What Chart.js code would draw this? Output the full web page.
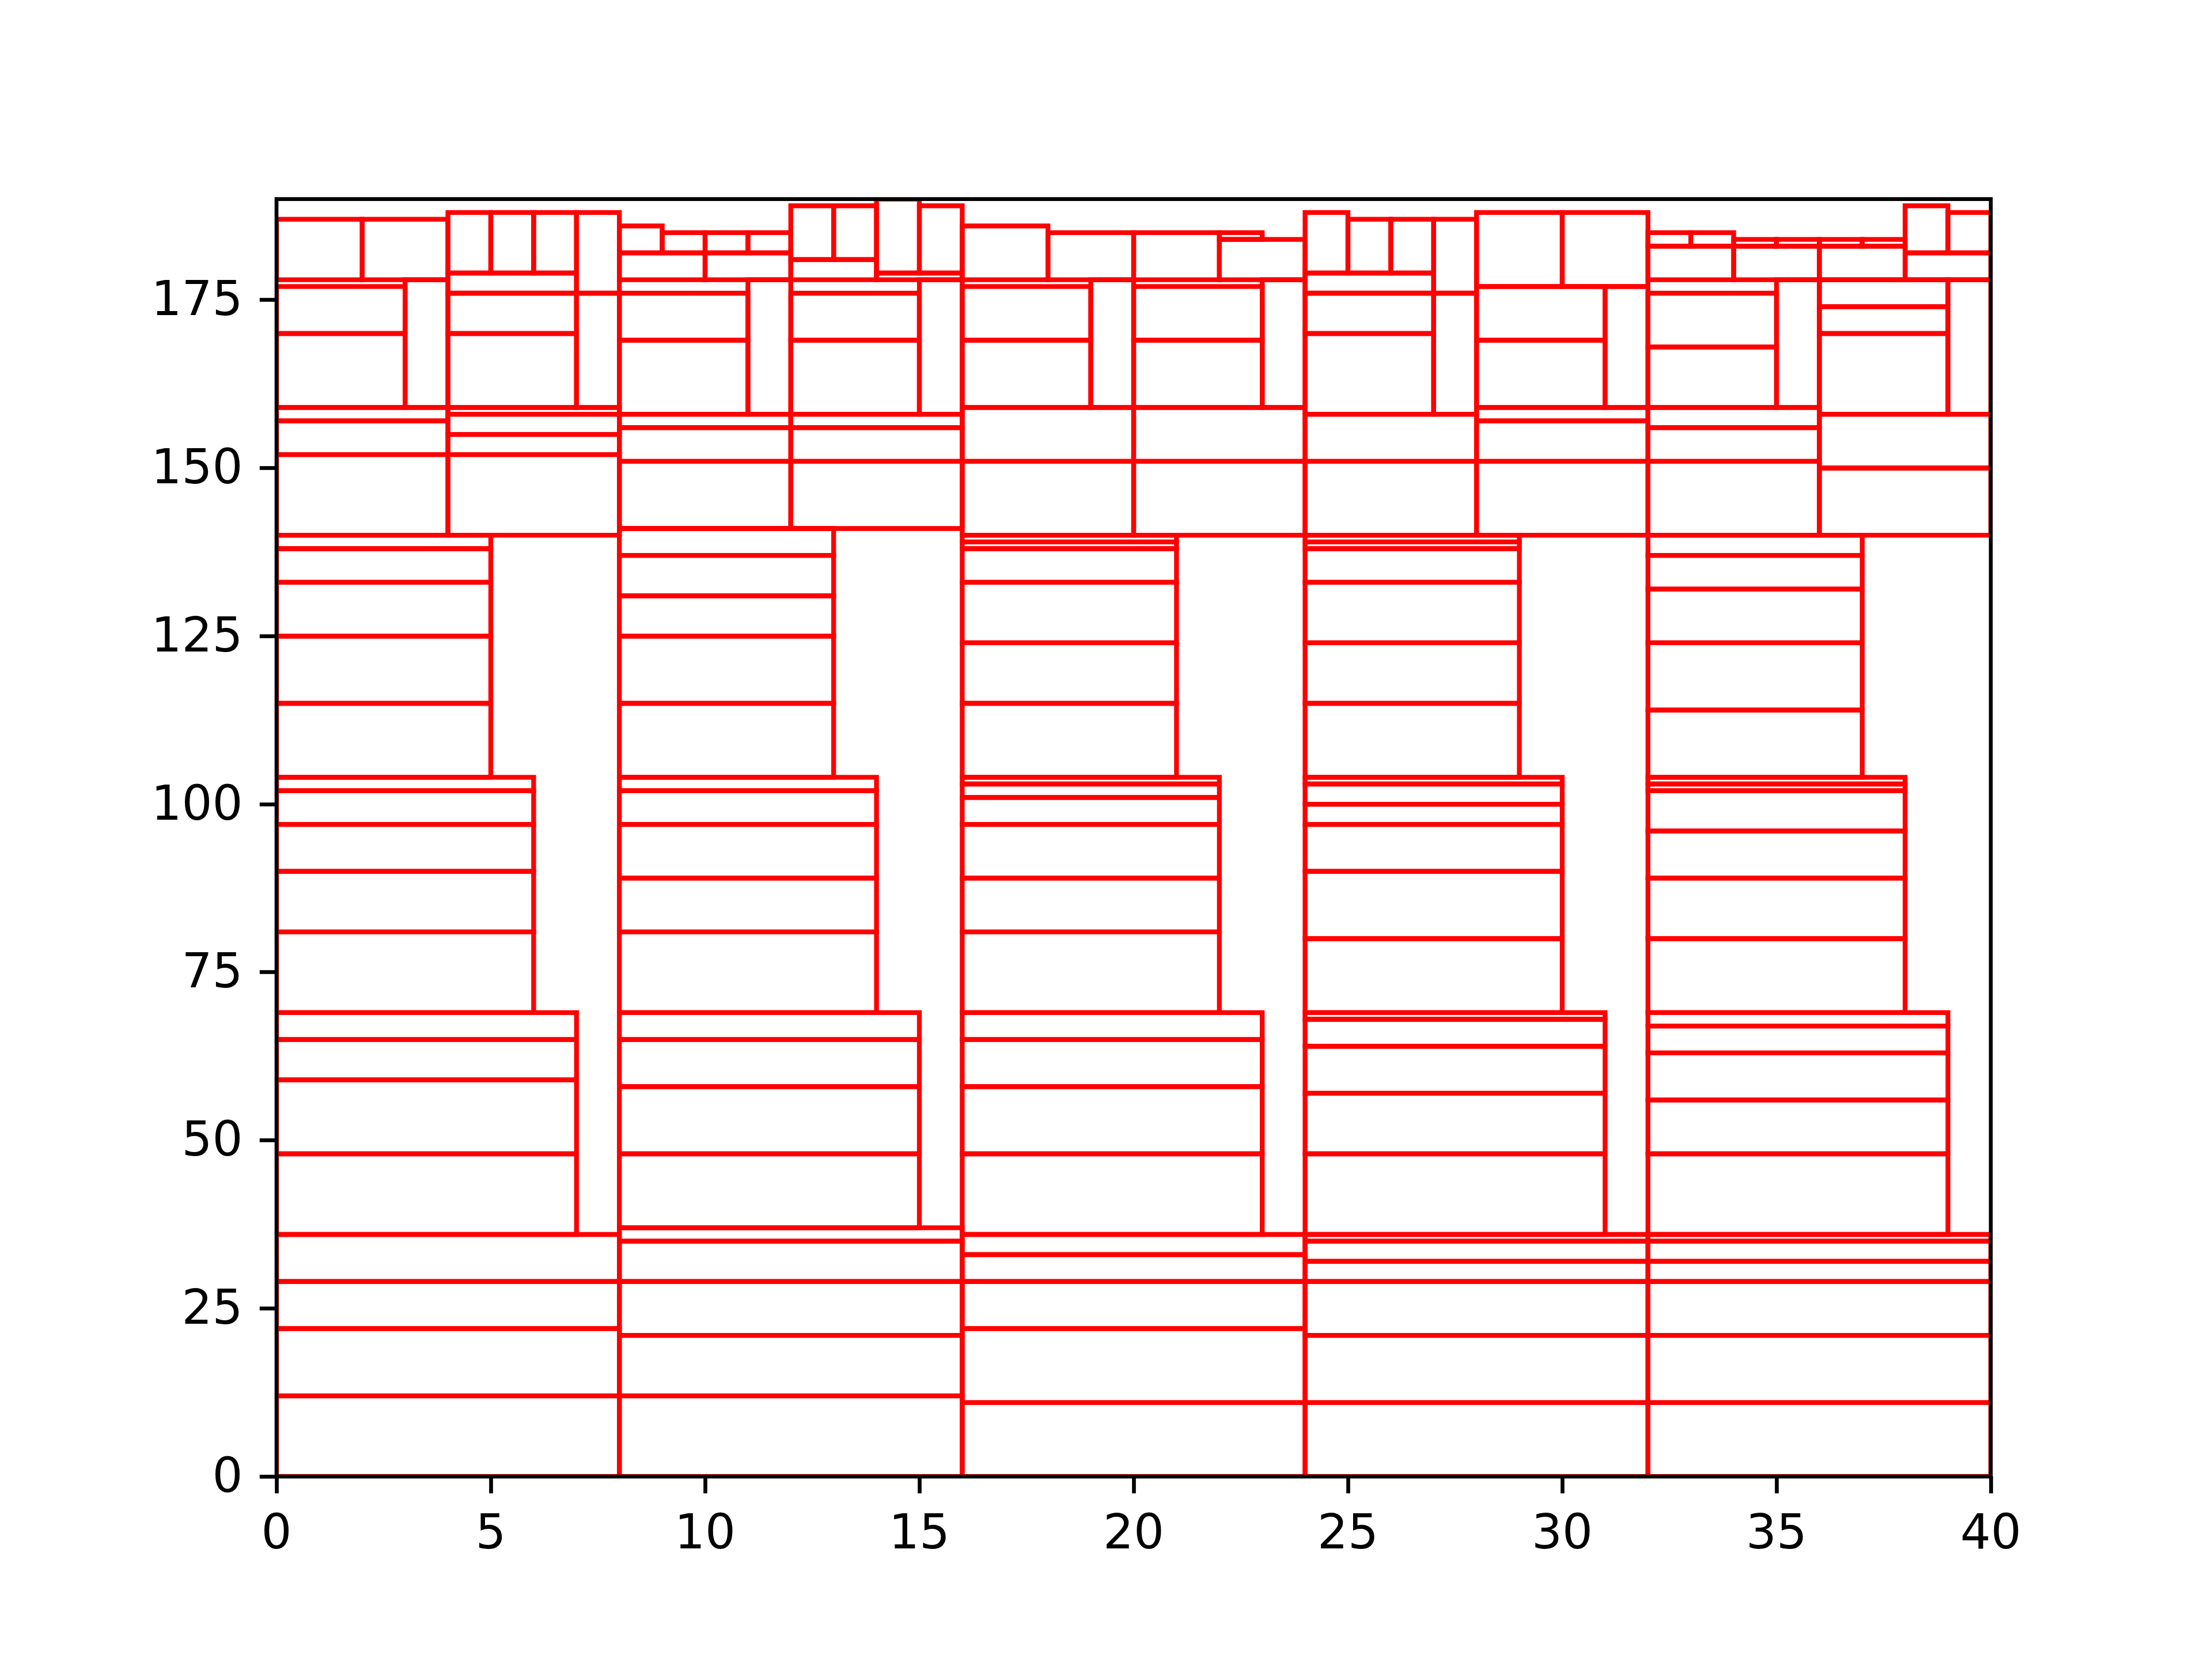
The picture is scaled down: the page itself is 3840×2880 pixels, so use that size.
<!DOCTYPE html>
<html>
<head>
<meta charset="utf-8">
<script src="https://cdn.jsdelivr.net/npm/chart.js@4.4.1/dist/chart.umd.min.js"></script>
<style>
html, body { margin: 0; padding: 0; background: #ffffff; }
canvas { display: block; }
</style>
</head>
<body>
<canvas id="c" width="3840" height="2880" style="width:3840px;height:2880px"></canvas>
<script>
// Rectangles per bin, each [x, y, width, height] in data units
const bin1 = [
  [0,0,8,12],[0,12,8,10],[0,22,8,7],[0,29,8,7],
  [0,36,7,12],[0,48,7,11],[0,59,7,6],[0,65,7,4],
  [0,69,6,12],[0,81,6,9],[0,90,6,7],[0,97,6,5],[0,102,6,2],
  [0,104,5,11],[0,115,5,10],[0,125,5,8],[0,133,5,5],[0,138,5,2],
  [0,140,4,12],[0,152,4,5],[0,157,4,2],
  [4,140,4,12],[4,152,4,3],[4,155,4,3],[4,158,4,1],
  [0,159,3,11],[0,170,3,7],[3,159,1,19],[0,178,2,9],[2,178,2,9],
  [4,159,3,11],[4,170,3,6],[4,176,3,3],[4,179,1,9],[5,179,1,9],[6,179,1,9],
  [7,159,1,17],[7,176,1,12]
];
const bin2 = [
  [8,0,8,12],[8,12,8,9],[8,21,8,8],[8,29,8,6],[8,35,8,2],
  [8,37,7,11],[8,48,7,10],[8,58,7,7],[8,65,7,4],
  [8,69,6,12],[8,81,6,8],[8,89,6,8],[8,97,6,5],[8,102,6,2],
  [8,104,5,11],[8,115,5,10],[8,125,5,6],[8,131,5,6],[8,137,5,4],
  [8,141,4,10],[8,151,4,5],[8,156,4,2],
  [12,141,4,10],[12,151,4,5],[12,156,4,2],
  [8,158,3,11],[8,169,3,7],[11,158,1,20],[8,178,2,4],[10,178,2,4],
  [8,182,1,4],[9,182,1,3],[10,182,1,3],[11,182,1,3],
  [12,158,3,11],[12,169,3,7],[15,158,1,20],[12,178,2,3],[12,181,1,8],[13,181,1,8],
  [14,178,2,1],[14,179,1,11],[15,179,1,10]
];
const bin3 = [
  [16,0,8,11],[16,11,8,11],[16,22,8,7],[16,29,8,4],[16,33,8,3],
  [16,36,7,12],[16,48,7,10],[16,58,7,7],[16,65,7,4],
  [16,69,6,12],[16,81,6,8],[16,89,6,8],[16,97,6,4],[16,101,6,2],[16,103,6,1],
  [16,104,5,11],[16,115,5,9],[16,124,5,9],[16,133,5,5],[16,138,5,1],[16,139,5,1],
  [16,140,4,11],[16,151,4,8],[20,140,4,11],[20,151,4,8],
  [16,159,3,10],[16,169,3,8],[19,159,1,19],[16,178,2,8],[18,178,2,7],
  [20,159,3,10],[20,169,3,8],[23,159,1,19],[20,178,2,7],[22,178,2,6],[22,184,1,1]
];
const bin4 = [
  [24,0,8,11],[24,11,8,10],[24,21,8,8],[24,29,8,3],[24,32,8,3],[24,35,8,1],
  [24,36,7,12],[24,48,7,9],[24,57,7,7],[24,64,7,4],[24,68,7,1],
  [24,69,6,11],[24,80,6,10],[24,90,6,7],[24,97,6,3],[24,100,6,3],[24,103,6,1],
  [24,104,5,11],[24,115,5,9],[24,124,5,9],[24,133,5,5],[24,138,5,1],[24,139,5,1],
  [24,140,4,11],[24,151,4,7],[28,140,4,11],[28,151,4,6],[28,157,4,2],
  [24,158,3,12],[24,170,3,6],[24,176,3,3],[24,179,1,9],[25,179,1,8],[26,179,1,8],
  [27,158,1,18],[27,176,1,11],
  [28,159,3,10],[28,169,3,8],[31,159,1,18],[28,177,2,11],[30,177,2,11]
];
const bin5 = [
  [32,0,8,11],[32,11,8,10],[32,21,8,8],[32,29,8,3],[32,32,8,3],[32,35,8,1],
  [32,36,7,12],[32,48,7,8],[32,56,7,7],[32,63,7,4],[32,67,7,2],
  [32,69,6,11],[32,80,6,9],[32,89,6,7],[32,96,6,6],[32,102,6,1],[32,103,6,1],
  [32,104,5,10],[32,114,5,10],[32,124,5,8],[32,132,5,5],[32,137,5,3],
  [32,140,4,11],[32,151,4,5],[32,156,4,3],[36,140,4,10],[36,150,4,8],
  [32,159,3,9],[32,168,3,8],[35,159,1,19],[32,178,2,5],[34,178,2,5],
  [32,183,1,2],[33,183,1,2],[34,183,1,1],[35,183,1,1],
  [36,158,3,12],[36,170,3,4],[36,174,3,4],[39,158,1,20],[36,178,2,5],
  [36,183,1,1],[37,183,1,1],[38,178,2,4],[38,182,1,7],[39,182,1,6]
];
const xTicks = [0, 5, 10, 15, 20, 25, 30, 35, 40];
const yTicks = [0, 25, 50, 75, 100, 125, 150, 175];
const xRange = [0, 40];
const yRange = [0, 190];

const bins = [bin1, bin2, bin3, bin4, bin5];
const datasets = [];
bins.forEach(bin => bin.forEach(([x, y, w, h]) => {
  datasets.push({
    data: [
      {x: x, y: y}, {x: x + w, y: y}, {x: x + w, y: y + h},
      {x: x, y: y + h}, {x: x, y: y}, {x: x + w, y: y}
    ],
    showLine: true,
    borderColor: '#ff0000',
    backgroundColor: '#ff0000',
    borderWidth: 8.33,
    pointRadius: 0,
    pointHoverRadius: 0,
    fill: false,
    tension: 0,
    borderJoinStyle: 'miter',
    borderCapStyle: 'butt',
    clip: 0
  });
}));

const spines = {
  id: 'spines',
  afterDatasetsDraw(chart) {
    const {ctx, chartArea: a} = chart;
    ctx.save();
    ctx.strokeStyle = '#000000';
    ctx.lineWidth = 6.67;
    ctx.lineJoin = 'miter';
    ctx.strokeRect(a.left, a.top, a.right - a.left, a.bottom - a.top);
    ctx.restore();
  }
};

const tickFont = {family: "'DejaVu Sans', sans-serif", size: 83.3};

new Chart(document.getElementById('c'), {
  type: 'scatter',
  data: {datasets},
  plugins: [spines],
  options: {
    responsive: false,
    devicePixelRatio: 1,
    animation: false,
    events: [],
    layout: {padding: {left: 0, top: 345.6, right: 384, bottom: 0}},
    plugins: {legend: {display: false}, tooltip: {enabled: false}},
    scales: {
      x: {
        type: 'linear', position: 'bottom', min: xRange[0], max: xRange[1],
        afterBuildTicks: s => { s.ticks = xTicks.map(v => ({value: v})); },
        afterFit: s => { s.height = 316.8; },
        grid: {drawOnChartArea: false, drawTicks: true, tickLength: 29.2, tickWidth: 6.67, tickColor: '#000000'},
        border: {display: false},
        ticks: {color: '#000000', font: tickFont, padding: 24, maxRotation: 0, autoSkip: false,
                callback: v => String(v)}
      },
      y: {
        type: 'linear', position: 'left', min: yRange[0], max: yRange[1],
        afterBuildTicks: s => { s.ticks = yTicks.map(v => ({value: v})); },
        afterFit: s => { s.width = 480; },
        grid: {drawOnChartArea: false, drawTicks: true, tickLength: 29.2, tickWidth: 6.67, tickColor: '#000000'},
        border: {display: false},
        ticks: {color: '#000000', font: tickFont, padding: 29.2, labelOffset: 5, autoSkip: false,
                callback: v => String(v)}
      }
    }
  }
});
</script>
</body>
</html>
